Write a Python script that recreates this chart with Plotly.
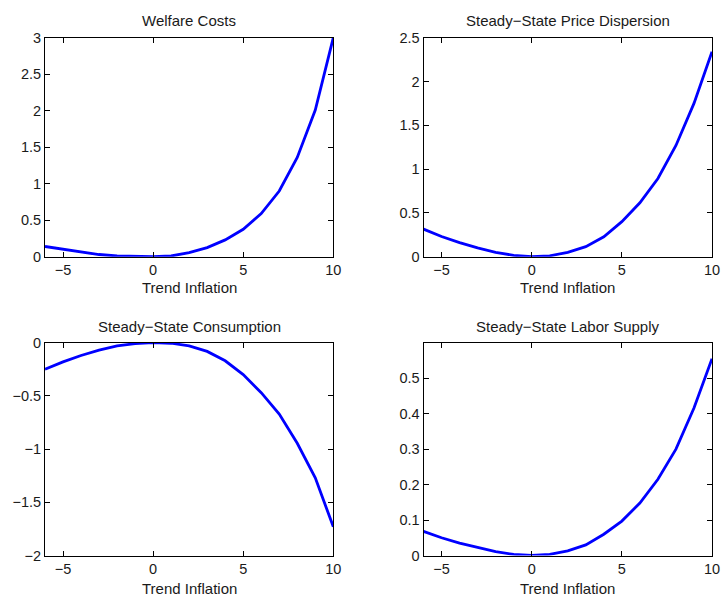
import plotly.graph_objects as go

trend_inflation = [-6, -5, -4, -3, -2, -1, 0, 1, 2, 3, 4, 5, 6, 7, 8, 9, 10]
welfare_costs = [0.14, 0.10, 0.06, 0.03, 0.01, 0.002, 0.0, 0.01, 0.055, 0.125, 0.23, 0.375, 0.59, 0.90, 1.36, 2.01, 3.0]
price_dispersion = [0.315, 0.23, 0.16, 0.10, 0.05, 0.015, 0.0, 0.01, 0.05, 0.115, 0.228, 0.40, 0.615, 0.893, 1.27, 1.75, 2.34]
consumption = [-0.25, -0.18, -0.12, -0.07, -0.03, -0.008, 0.0, -0.005, -0.03, -0.082, -0.17, -0.30, -0.47, -0.67, -0.945, -1.27, -1.73]
labor_supply = [0.068, 0.05, 0.035, 0.022, 0.011, 0.003, 0.0, 0.003, 0.013, 0.03, 0.06, 0.097, 0.148, 0.215, 0.30, 0.416, 0.555]

titles = ["Welfare Costs", "Steady\u2212State Price Dispersion",
          "Steady\u2212State Consumption", "Steady\u2212State Labor Supply"]
x_label = "Trend Inflation"
series = [welfare_costs, price_dispersion, consumption, labor_supply]
y_ranges = [[0, 3], [0, 2.5], [-2, 0], [0, 0.6]]
y_ticks = [[0, 0.5, 1, 1.5, 2, 2.5, 3], [0, 0.5, 1, 1.5, 2, 2.5],
           [-2, -1.5, -1, -0.5, 0], [0, 0.1, 0.2, 0.3, 0.4, 0.5]]
x_ticks = [-5, 0, 5, 10]

# rendered paper area (pixels) used to convert picture positions to paper fractions
PW, PH, PY0 = 714.0, 585.0, 8.0


def fx(px):
    return px / PW


def fy(py):
    return 1 - (py - PY0) / PH


x_doms = [[fx(45), fx(333.3)], [fx(423.5), fx(712)]]
y_doms = [[fy(256.7), fy(37.7)], [fy(555.5), fy(342.7)]]
title_y = [fy(20), fy(326)]
label_y = [fy(287), fy(588)]

fig = go.Figure()
font_family = "Liberation Sans, Arial, Helvetica, sans-serif"
txt_color = "#1a1a1a"
annotations = []
for i in range(4):
    r, c = divmod(i, 2)
    ax = "" if i == 0 else str(i + 1)
    fig.add_trace(go.Scatter(x=trend_inflation, y=series[i], mode="lines",
                             line=dict(color="#0000ff", width=2.8),
                             xaxis="x" + ax, yaxis="y" + ax, showlegend=False,
                             hoverinfo="skip"))
    common = dict(showline=True, linecolor="black", linewidth=1, mirror="ticks",
                  ticks="inside", ticklen=5, tickcolor="black", showgrid=False,
                  zeroline=False, tickfont=dict(family=font_family, size=14.5, color=txt_color))
    fig.update_layout(**{
        "xaxis" + ax: dict(domain=x_doms[c], range=[-6, 10], tickvals=x_ticks,
                           anchor="y" + ax, **common),
        "yaxis" + ax: dict(domain=y_doms[r], range=y_ranges[i], tickvals=y_ticks[i],
                           anchor="x" + ax, **common),
    })
    xc = (x_doms[c][0] + x_doms[c][1]) / 2
    annotations.append(dict(text=titles[i], x=xc, y=title_y[r],
                            xref="paper", yref="paper", xanchor="center", yanchor="middle",
                            showarrow=False, font=dict(family=font_family, size=15, color=txt_color)))
    annotations.append(dict(text=x_label, x=xc, y=label_y[r],
                            xref="paper", yref="paper", xanchor="center", yanchor="middle",
                            showarrow=False, font=dict(family=font_family, size=15, color=txt_color)))

fig.update_layout(width=722, height=601, margin=dict(l=0, r=0, t=0, b=0), autosize=False,
                  plot_bgcolor="white", paper_bgcolor="white", annotations=annotations)

post = "document.body.style.margin='0';document.body.style.overflow='hidden';"
fig.write_html("out.html", config={"responsive": False, "displayModeBar": False},
               post_script=post)
